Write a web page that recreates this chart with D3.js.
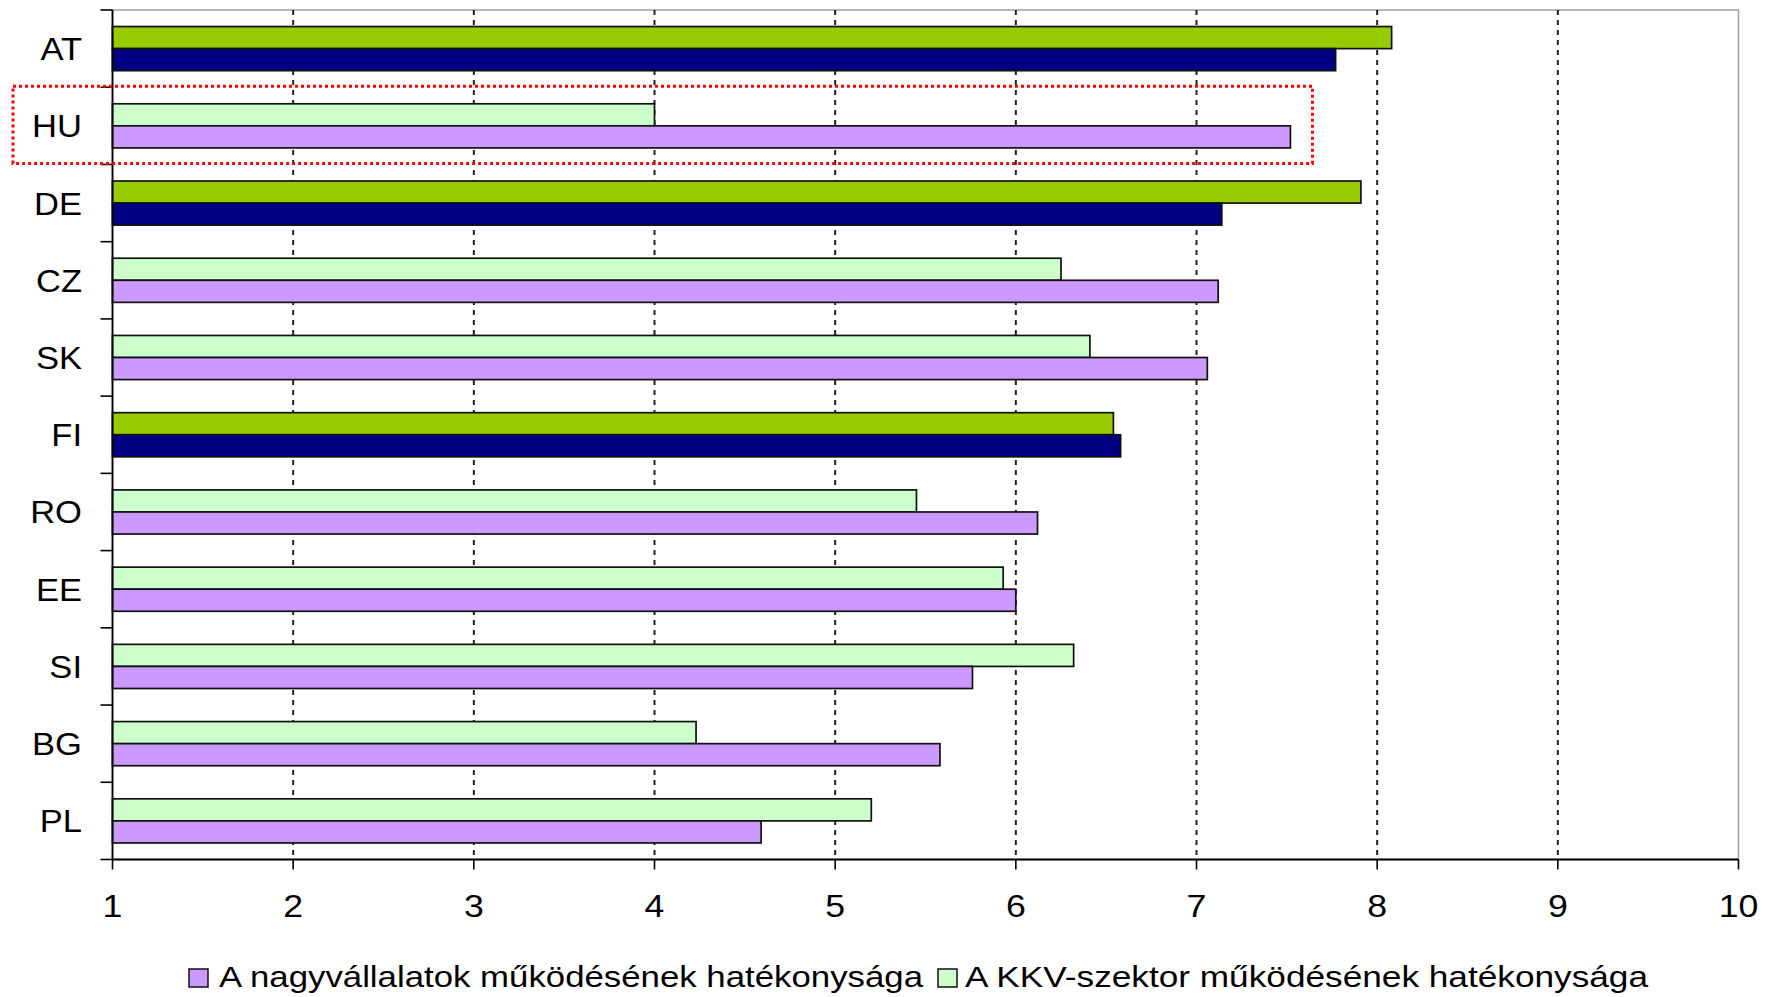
<!DOCTYPE html>
<html>
<head>
<meta charset="utf-8">
<script src="https://cdn.jsdelivr.net/npm/d3@7"></script>
<style>
  html, body { margin: 0; padding: 0; background: #fff; }
  svg { display: block; }
  text { font-family: "Liberation Sans", Arial, sans-serif; fill: #000; }
</style>
</head>
<body>
<svg id="chart" width="1769" height="997"></svg>
<script>
// ---- data ----
const categories = ["AT", "HU", "DE", "CZ", "SK", "FI", "RO", "EE", "SI", "BG", "PL"];
const kkvValues   = [8.08, 4.00, 7.91, 6.25, 6.41, 6.54, 5.45, 5.93, 6.32, 4.23, 5.20];
const largeValues = [7.77, 7.52, 7.14, 7.12, 7.06, 6.58, 6.12, 6.00, 5.76, 5.58, 4.59];
const highlightedCategories = ["AT", "DE", "FI"];
const markedCategory = "HU";
const xTicks = [1, 2, 3, 4, 5, 6, 7, 8, 9, 10];
const seriesNames = ["A nagyvállalatok működésének hatékonysága", "A KKV-szektor működésének hatékonysága"];

// ---- style ----
const colors = {
  large: "#CC99FF", kkv: "#CCFFCC",
  largeHi: "#000080", kkvHi: "#99CC00"
};

const W = 1769, H = 997;
const plot = { left: 112.5, right: 1738.5, top: 10, bottom: 859.5 };

const svg = d3.select("#chart");
svg.append("rect").attr("width", W).attr("height", H).attr("fill", "#fff");

const x = d3.scaleLinear().domain([1, 10]).range([plot.left, plot.right]);
const pad = 1.5 / 3.5;
const y = d3.scaleBand().domain(categories).range([plot.top, plot.bottom])
  .paddingInner(pad).paddingOuter(pad / 2);
const ySub = d3.scaleBand().domain(["kkv", "large"]).range([0, y.bandwidth()]);

const rows = categories.map((c, i) => ({ cat: c, kkv: kkvValues[i], large: largeValues[i], hi: highlightedCategories.includes(c) }));

// plot area border (gray)
svg.append("rect")
  .attr("x", plot.left).attr("y", plot.top)
  .attr("width", plot.right - plot.left).attr("height", plot.bottom - plot.top)
  .attr("fill", "none").attr("stroke", "#a0a0a0").attr("stroke-width", 1.5);

// gridlines
svg.append("g").selectAll("line").data(xTicks.filter(t => t > 1 && t < 10)).join("line")
  .attr("x1", d => x(d)).attr("x2", d => x(d))
  .attr("y1", plot.top).attr("y2", plot.bottom)
  .attr("stroke", "#222").attr("stroke-width", 2)
  .attr("stroke-dasharray", "5,5");

// bars
const gBars = svg.append("g");
rows.forEach(r => {
  const y0 = y(r.cat);
  gBars.append("rect")
    .attr("x", x(1)).attr("y", y0 + ySub("kkv"))
    .attr("width", x(r.kkv) - x(1)).attr("height", ySub.bandwidth())
    .attr("fill", r.hi ? colors.kkvHi : colors.kkv)
    .attr("stroke", "#111").attr("stroke-width", 1.7);
  gBars.append("rect")
    .attr("x", x(1)).attr("y", y0 + ySub("large"))
    .attr("width", x(r.large) - x(1)).attr("height", ySub.bandwidth())
    .attr("fill", r.hi ? colors.largeHi : colors.large)
    .attr("stroke", "#111").attr("stroke-width", 1.7);
});

// axes
const stepPad = (y.step() - y.bandwidth()) / 2;
const boundaries = categories.map(c => y(c) - stepPad).concat([plot.bottom]);
svg.append("line").attr("x1", plot.left).attr("x2", plot.left)
  .attr("y1", plot.top).attr("y2", plot.bottom).attr("stroke", "#000").attr("stroke-width", 1.8);
svg.append("g").selectAll("line").data(boundaries).join("line")
  .attr("x1", plot.left - 12).attr("x2", plot.left)
  .attr("y1", d => d).attr("y2", d => d)
  .attr("stroke", "#000").attr("stroke-width", 1.6);
svg.append("line").attr("x1", plot.left).attr("x2", plot.right)
  .attr("y1", plot.bottom).attr("y2", plot.bottom).attr("stroke", "#000").attr("stroke-width", 1.8);
svg.append("g").selectAll("line").data(xTicks).join("line")
  .attr("x1", d => x(d)).attr("x2", d => x(d))
  .attr("y1", plot.bottom).attr("y2", plot.bottom + 10)
  .attr("stroke", "#000").attr("stroke-width", 1.6);

// x tick labels
svg.append("g").selectAll("text").data(xTicks).join("text")
  .attr("transform", d => `translate(${x(d)},917) scale(1.15,1)`)
  .attr("text-anchor", "middle")
  .style("font-size", "31px")
  .text(d => d);

// category labels
svg.append("g").selectAll("text").data(categories).join("text")
  .attr("transform", d => `translate(82,${y(d) + y.bandwidth() / 2 + 11.5}) scale(1.08,1)`)
  .attr("text-anchor", "end")
  .style("font-size", "32px")
  .text(d => d);

// red dotted highlight frame around HU
const hIdx = categories.indexOf(markedCategory);
const hTop = y(markedCategory) - stepPad - 1;
svg.append("rect")
  .attr("x", 13).attr("y", hTop)
  .attr("width", x(largeValues[hIdx]) + 22 - 13).attr("height", y.step())
  .attr("fill", "none").attr("stroke", "#FF0000").attr("stroke-width", 3)
  .attr("stroke-dasharray", "3,3");

// legend
const legendItems = [
  { name: seriesNames[0], color: colors.large, sx: 189, tx: 219, tw: 704 },
  { name: seriesNames[1], color: colors.kkv, sx: 938, tx: 965, tw: 683 }
];
const gLeg = svg.append("g");
legendItems.forEach(it => {
  gLeg.append("rect").attr("x", it.sx).attr("y", 969).attr("width", 19).attr("height", 18)
    .attr("fill", it.color).attr("stroke", "#111").attr("stroke-width", 1.5);
  gLeg.append("text").attr("x", it.tx).attr("y", 987)
    .style("font-size", "29px")
    .attr("textLength", it.tw).attr("lengthAdjust", "spacingAndGlyphs")
    .text(it.name);
});
</script>
</body>
</html>
